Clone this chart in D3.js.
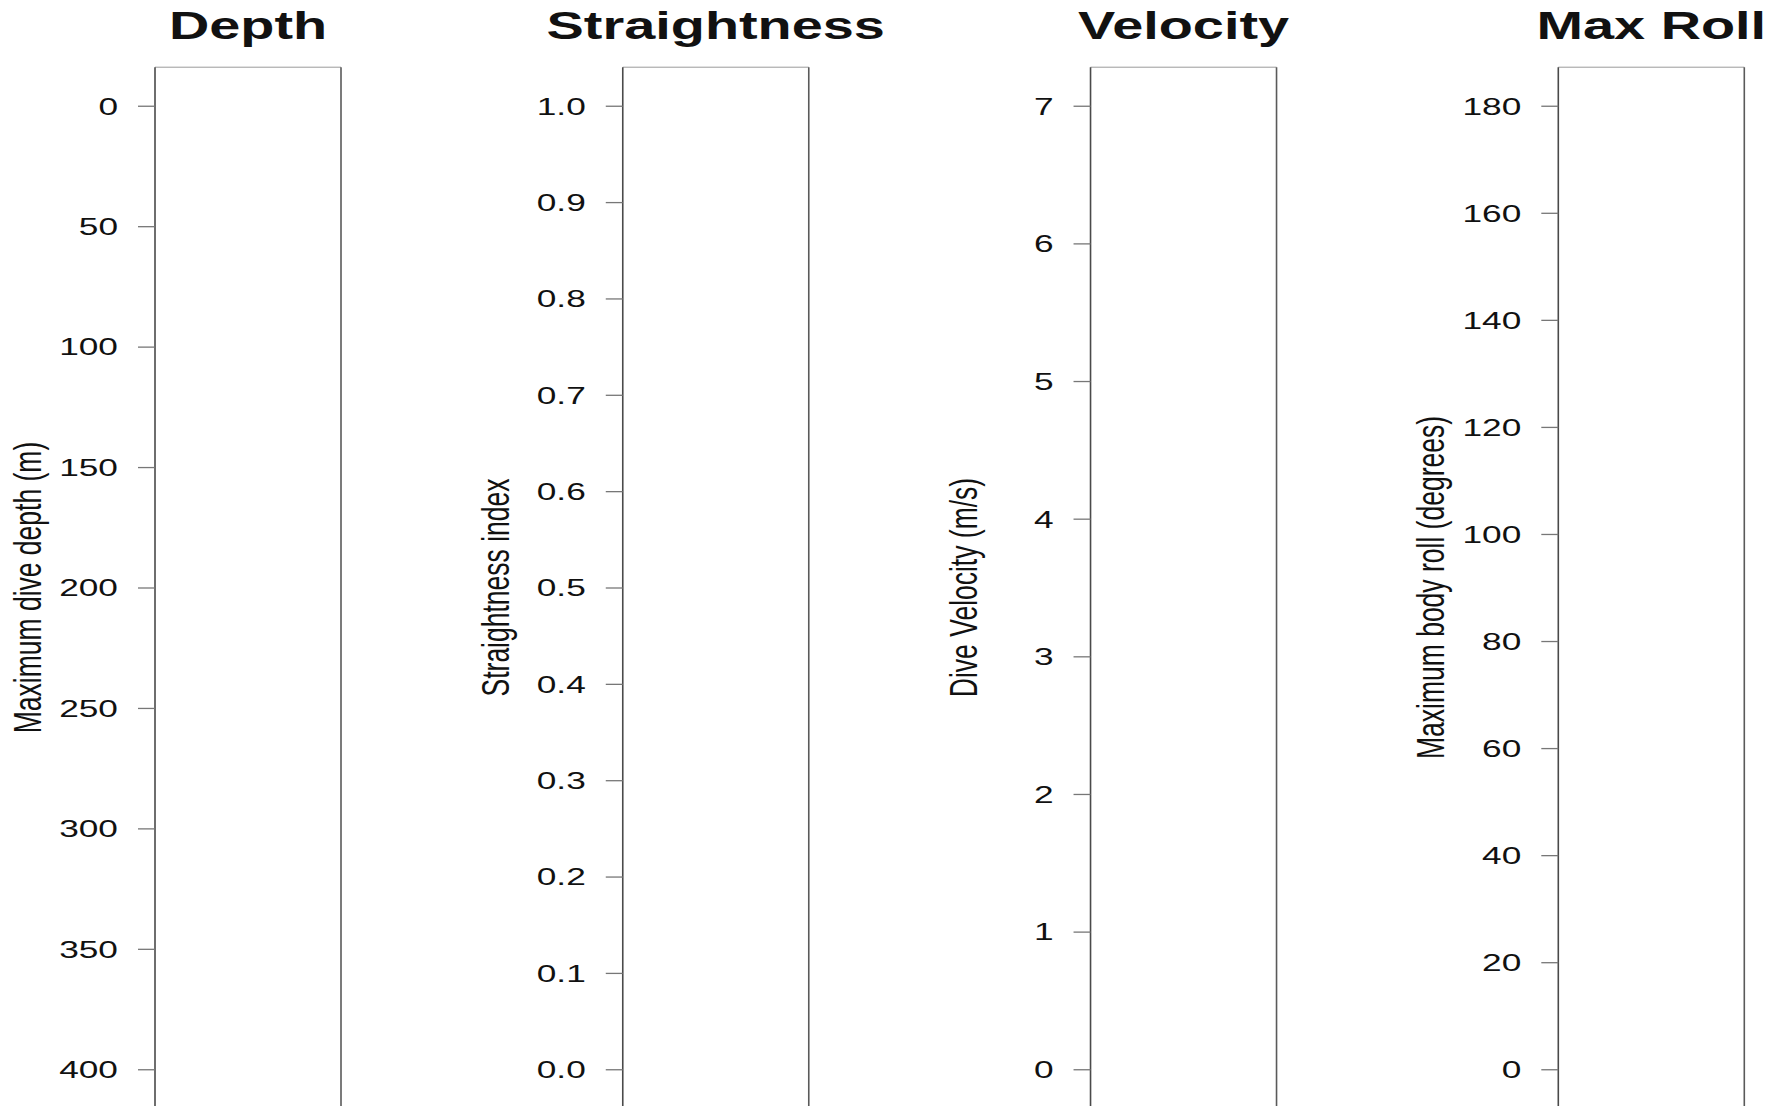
<!DOCTYPE html>
<html>
<head>
<meta charset="utf-8">
<script src="https://cdn.jsdelivr.net/npm/d3@7"></script>
<style>
  html, body { margin: 0; padding: 0; background: #fff; }
  svg { display: block; }
  text { font-family: "Liberation Sans", Arial, Helvetica, sans-serif; fill: #111; }
</style>
</head>
<body>
<svg id="chart" width="1788" height="1106"></svg>
<script>
// Panel titles and y-axis labels
const titles = ["Depth", "Straightness", "Velocity", "Max Roll"];
const axisLabels = ["Maximum dive depth (m)", "Straightness index", "Dive Velocity (m/s)", "Maximum body roll (degrees)"];

// Axis ranges (data min, data max) and tick values for each panel
const depthRange = [0, 400];
const depthTicks = [0, 50, 100, 150, 200, 250, 300, 350, 400];
const straightRange = [0, 1];
const straightTicks = [0, 0.1, 0.2, 0.3, 0.4, 0.5, 0.6, 0.7, 0.8, 0.9, 1.0];
const velocityRange = [0, 7];
const velocityTicks = [0, 1, 2, 3, 4, 5, 6, 7];
const rollRange = [0, 180];
const rollTicks = [0, 20, 40, 60, 80, 100, 120, 140, 160, 180];

// Depth is drawn with 0 at the top (reversed axis)
const panels = [
  { range: depthRange, ticks: depthTicks, reversed: true, fmt: d3.format("d") },
  { range: straightRange, ticks: straightTicks, reversed: false, fmt: d3.format(".1f") },
  { range: velocityRange, ticks: velocityTicks, reversed: false, fmt: d3.format("d") },
  { range: rollRange, ticks: rollTicks, reversed: false, fmt: d3.format("d") }
];

const SX = 1.47;              // horizontal stretch applied to all text
const plotTop = 67.2, plotBottom = 1107.8;
const panelWidth = 186;
const panelX = d3.scaleLinear().domain([0, 3]).range([155, 1558.3]);

const svg = d3.select("#chart");

panels.forEach((p, i) => {
  const x0 = panelX(i);
  const pad = (p.range[1] - p.range[0]) * 0.04;
  const dom = [p.range[0] - pad, p.range[1] + pad];
  const y = d3.scaleLinear()
    .domain(p.reversed ? dom.slice().reverse() : dom)
    .range([plotBottom, plotTop]);

  const g = svg.append("g").attr("transform", `translate(${x0},0)`);

  // frame of the (empty) plotting region
  g.append("line").attr("x1", 0).attr("x2", panelWidth).attr("y1", plotTop).attr("y2", plotTop)
    .attr("stroke", "#9a9a9a").attr("stroke-width", 1);
  g.append("line").attr("x1", 0).attr("x2", 0).attr("y1", plotTop).attr("y2", plotBottom)
    .attr("stroke", "#4a4a4a").attr("stroke-width", 1.6);
  g.append("line").attr("x1", panelWidth).attr("x2", panelWidth).attr("y1", plotTop).attr("y2", plotBottom)
    .attr("stroke", "#5a5a5a").attr("stroke-width", 1.6);

  // left axis
  const ax = g.append("g").call(
    d3.axisLeft(y).tickValues(p.ticks).tickFormat(p.fmt).tickSize(17).tickPadding(0)
  );
  ax.select(".domain").remove();
  ax.selectAll(".tick line").attr("stroke", "#777").attr("stroke-width", 1.3);
  ax.selectAll(".tick text")
    .attr("x", null).attr("dy", null)
    .attr("transform", `translate(-37,0) scale(${SX},1)`)
    .attr("dominant-baseline", "central")
    .attr("text-anchor", "end")
    .style("font-family", "'Liberation Sans', Arial, sans-serif")
    .style("font-size", "24px")
    .attr("fill", "#111");

  // panel title
  g.append("text")
    .attr("transform", `translate(${panelWidth / 2},39) scale(${SX},1)`)
    .attr("text-anchor", "middle")
    .style("font-size", "38px")
    .style("font-weight", "bold")
    .text(titles[i]);

  // rotated y-axis label
  g.append("text")
    .attr("transform", `translate(-114,${(plotTop + plotBottom) / 2}) scale(${SX},1) rotate(-90)`)
    .attr("text-anchor", "middle")
    .style("font-size", "26.5px")
    .text(axisLabels[i]);
});
</script>
</body>
</html>
